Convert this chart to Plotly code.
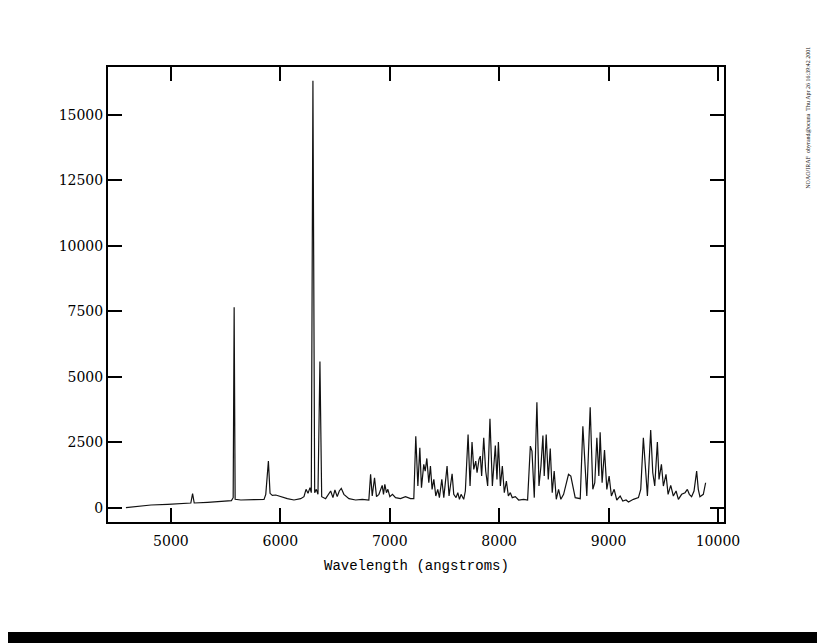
import plotly.graph_objects as go

# Wavelength (angstroms) and flux
wavelength = [4589, 4696, 4818, 4970, 5152, 5182, 5198, 5213, 5335, 5456, 5553, 5569, 5578, 5587,
              5639, 5760, 5851, 5867, 5891, 5906, 5927, 5958, 6004, 6064, 6125, 6186, 6216, 6235,
              6253, 6271, 6283, 6298, 6314, 6329, 6344, 6362, 6378, 6414, 6460, 6481, 6499, 6520,
              6539, 6557, 6581, 6627, 6688, 6749, 6809, 6825, 6840, 6861, 6879, 6901, 6931, 6943,
              6955, 6970, 6983, 7001, 7025, 7053, 7098, 7144, 7190, 7220,
              7238, 7257, 7275, 7290, 7311, 7324, 7339, 7357, 7372, 7387, 7403, 7421, 7439, 7454,
              7476, 7494, 7524, 7542, 7570, 7585, 7606, 7622, 7637, 7652, 7676, 7691, 7716, 7734,
              7752, 7768, 7786, 7798, 7816, 7828, 7840, 7859, 7877, 7895, 7916, 7938, 7965, 7980,
              7993, 8011, 8029, 8047, 8066, 8084, 8102, 8120, 8148, 8178, 8224, 8260, 8285, 8300,
              8321, 8345, 8364, 8382, 8400, 8412, 8430, 8449, 8467, 8485, 8503, 8522, 8543, 8564,
              8589, 8619, 8634, 8655, 8674, 8695, 8741, 8765, 8783, 8801, 8832, 8856, 8874, 8893,
              8911, 8923, 8941, 8963, 8984, 9005, 9026, 9051, 9075, 9106, 9130, 9160, 9182, 9227,
              9273, 9294, 9318, 9337, 9355, 9385, 9404, 9422, 9446, 9461, 9483, 9501, 9525, 9544,
              9568, 9592, 9617, 9638, 9668, 9699, 9720, 9738, 9759, 9781, 9805, 9820, 9835, 9866,
              9887]
flux = [0, 38, 101, 126, 165, 177, 533, 177, 203, 228, 266, 380, 7650, 317,
        291, 304, 317, 508, 1777, 546, 469, 482, 419, 342, 291, 342, 419, 698,
        546, 762, 571, 16300, 571, 698, 508, 5580, 419, 342, 635, 381, 673, 419,
        635, 736, 508, 342, 291, 317, 291, 1270, 444, 1143, 419, 508, 850, 508,
        888, 571, 698, 419, 508, 381, 342, 419, 342, 342,
        2730, 825, 2285, 762, 1650, 1397, 1879, 952, 1587, 698, 1079, 444, 698, 381,
        1079, 381, 1587, 444, 1295, 508, 381, 571, 317, 508, 317, 635, 2794, 825,
        2501, 1460, 1777, 1333, 1841, 1968, 1206, 2667, 1397, 825, 3390, 825, 2374, 1079,
        2501, 825, 1587, 571, 1015, 444, 571, 381, 419, 291, 317, 291, 2349, 2159,
        381, 4025, 825, 1587, 2755, 1206, 2794, 1079, 2260, 571, 1397, 317, 698, 317,
        508, 1079, 1270, 1206, 825, 381, 342, 3111, 1777, 444, 3835, 698, 952, 2667,
        1206, 2882, 952, 2197, 698, 1206, 444, 698, 291, 444, 253, 291, 215, 317,
        381, 698, 2667, 1587, 444, 2959, 1333, 825, 2501, 1079, 1650, 825, 1270, 508,
        850, 444, 635, 317, 508, 571, 698, 508, 419, 635, 1395, 698, 419, 508,
        950]

x_ticks = [5000, 6000, 7000, 8000, 9000, 10000]
y_ticks = [0, 2500, 5000, 7500, 10000, 12500, 15000]

fig = go.Figure()
fig.add_trace(go.Scatter(x=wavelength, y=flux, mode="lines",
                         line=dict(color="#111111", width=1.2), showlegend=False,
                         hoverinfo="skip"))

axis_common = dict(showline=True, linewidth=2, linecolor="black", mirror="ticks",
                   ticks="inside", ticklen=14, tickwidth=2, tickcolor="black",
                   showgrid=False, zeroline=False,
                   tickfont=dict(family="DejaVu Serif", size=14, color="black"))

fig.update_xaxes(range=[4425, 10055], tickvals=x_ticks, ticklabelstandoff=5,
                 ticktext=[str(v) for v in x_ticks], **axis_common)
fig.update_yaxes(range=[-549, 16829], tickvals=y_ticks,
                 ticktext=[str(v) for v in y_ticks], **axis_common)

fig.add_annotation(text="Wavelength (angstroms)", xref="paper", yref="paper",
                   x=0.5, y=-0.0967, xanchor="center", yanchor="middle", showarrow=False,
                   font=dict(family="Courier New, Liberation Mono, monospace", size=14, color="black"))

fig.add_annotation(text="NOAO/IRAF  obyrand@ocuna  Thu Apr 26 16:39:42 2001",
                   xref="paper", yref="paper", x=1.136, y=0.888, textangle=-90,
                   xanchor="center", yanchor="middle", showarrow=False,
                   font=dict(family="Liberation Serif", size=6, color="#111111"))

# scan border artefact: black band at the bottom of the page
fig.add_shape(type="rect", xref="paper", yref="paper", x0=-0.2, x1=1.2,
              y0=-0.2418, y1=-0.30, fillcolor="black", line=dict(width=0), layer="above")

fig.update_layout(width=817, height=635,
                  margin=dict(l=100, r=101, t=59, b=121),
                  paper_bgcolor="white", plot_bgcolor="white")

fig.write_html("out.html")
